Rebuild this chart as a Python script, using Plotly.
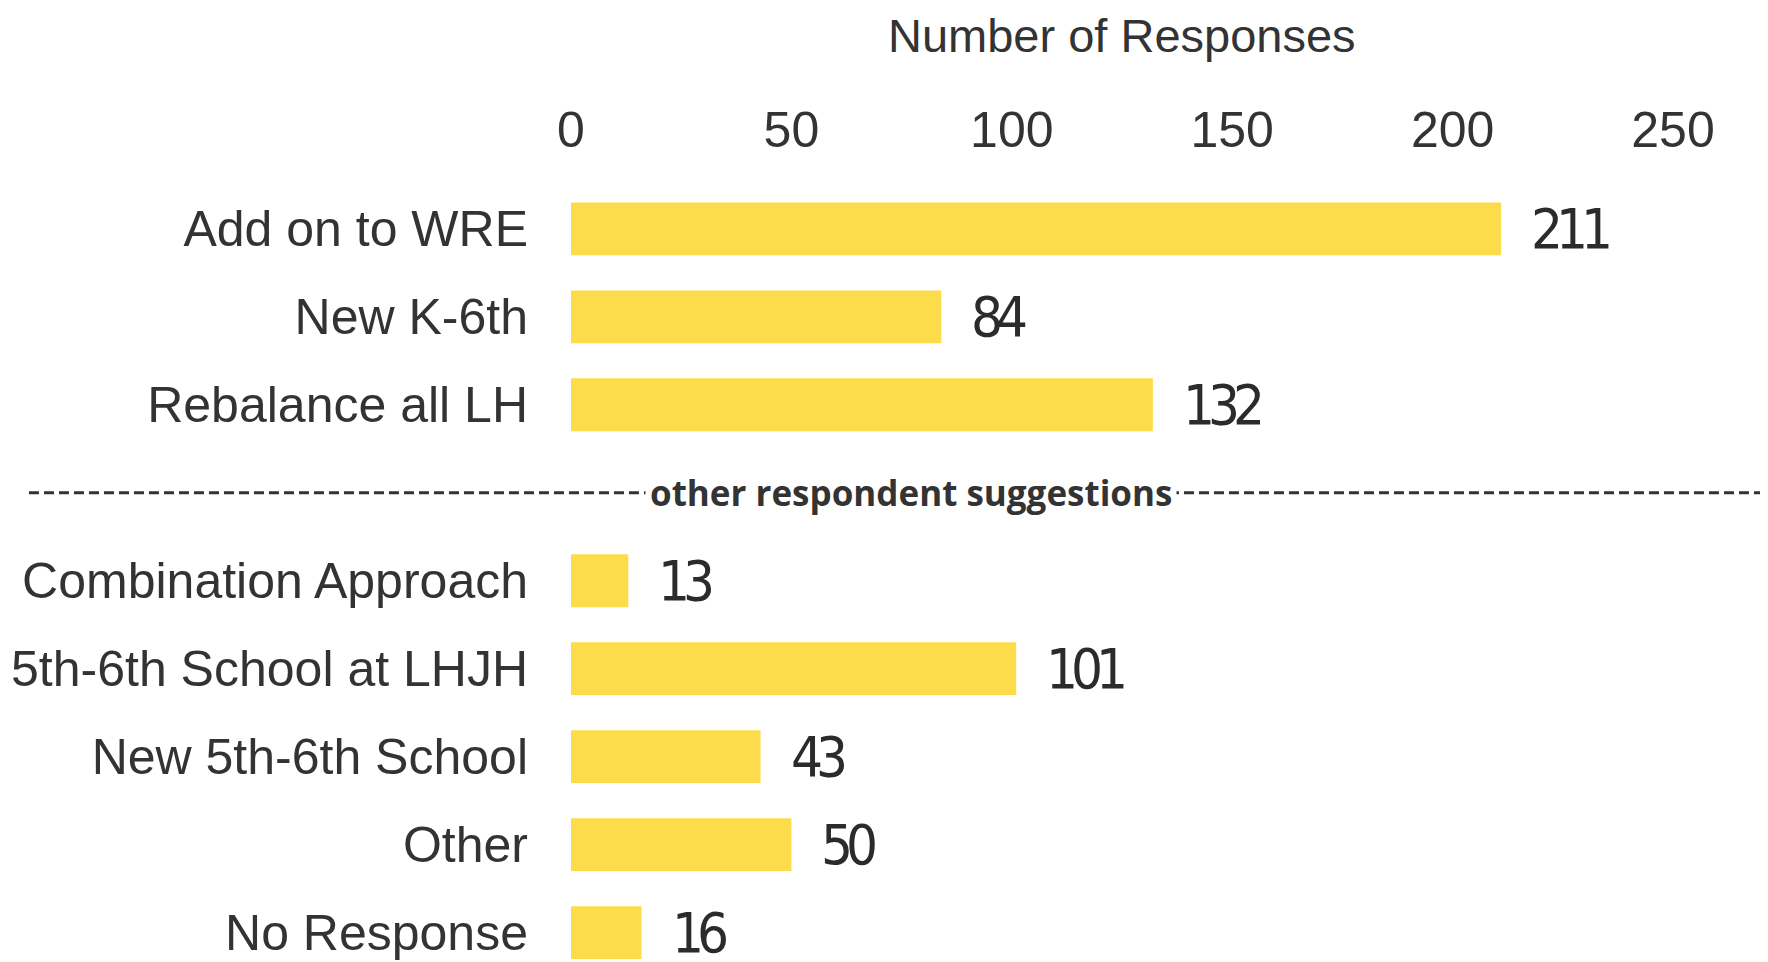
import plotly.graph_objects as go

categories = ["Add on to WRE", "New K-6th", "Rebalance all LH",
              "Combination Approach", "5th-6th School at LHJH", "New 5th-6th School",
              "Other", "No Response"]
values = [211, 84, 132, 13, 101, 43, 50, 16]
slots = [0, 1, 2, 4, 5, 6, 7, 8]
divider_slot = 3
divider_text = "other respondent suggestions"
x_ticks = [0, 50, 100, 150, 200, 250]
axis_title = "Number of Responses"

BAR = "#FDDC4B"
TXT = "#333333"
LBL_FONT = "Liberation Sans, Arial, sans-serif"

W, H = 1768, 962
OFF = 8  # default page body margin
L, R, T, B = 569 - OFF, 95 + OFF, 176 - OFF, 3
plot_w = W - L - R
plot_h = H - T - B

fig = go.Figure()
fig.add_trace(go.Bar(
    x=values, y=slots, orientation="h",
    marker=dict(color=BAR, line=dict(width=0)),
    width=0.6, hoverinfo="x+y", showlegend=False,
))

for v, s in zip(values, slots):
    fig.add_annotation(
        x=v, y=s, xref="x", yref="y",
        text='<span style="letter-spacing:-7px">' + str(v) + "</span>",
        showarrow=False,
        xanchor="left", yanchor="middle", xshift=28,
        font=dict(family="DejaVu Sans Condensed, DejaVu Sans, sans-serif",
                  size=56, color="#2b2b2b"),
    )

def px_to_paper_x(px):
    return (px - OFF - L) / plot_w

fig.add_shape(
    type="line", xref="paper", yref="y",
    x0=px_to_paper_x(26), x1=px_to_paper_x(1766), y0=divider_slot, y1=divider_slot,
    line=dict(color="#333333", width=3, dash="10px,5px"),
)
fig.add_annotation(
    x=px_to_paper_x(910), y=divider_slot, xref="paper", yref="y",
    text=divider_text, showarrow=False, xanchor="center", yanchor="middle",
    bgcolor="white", borderpad=4,
    font=dict(family="Open Sans, sans-serif", size=35, color=TXT, weight=700),
)

fig.add_annotation(
    x=0.5, y=1 + (T - 28) / plot_h, xref="paper", yref="paper",
    text=axis_title, showarrow=False, xanchor="center", yanchor="middle",
    borderpad=0,
    font=dict(family=LBL_FONT, size=47, color=TXT),
)

fig.update_layout(
    width=W, height=H,
    margin=dict(l=L, r=R, t=T, b=B, pad=0),
    paper_bgcolor="white", plot_bgcolor="white",
    xaxis=dict(
        side="top", range=[0, 250], tickvals=x_ticks,
        ticktext=[str(t) for t in x_ticks],
        showgrid=False, zeroline=False, showline=False, ticks="",
        ticklabelstandoff=18,
        tickfont=dict(family=LBL_FONT, size=50, color=TXT),
    ),
    yaxis=dict(
        range=[8.39, -0.6], tickvals=slots, ticktext=categories,
        showgrid=False, zeroline=False, showline=False, ticks="",
        ticklabelstandoff=42,
        tickfont=dict(family=LBL_FONT, size=50, color=TXT),
    ),
)

fig.write_html("out.html")
